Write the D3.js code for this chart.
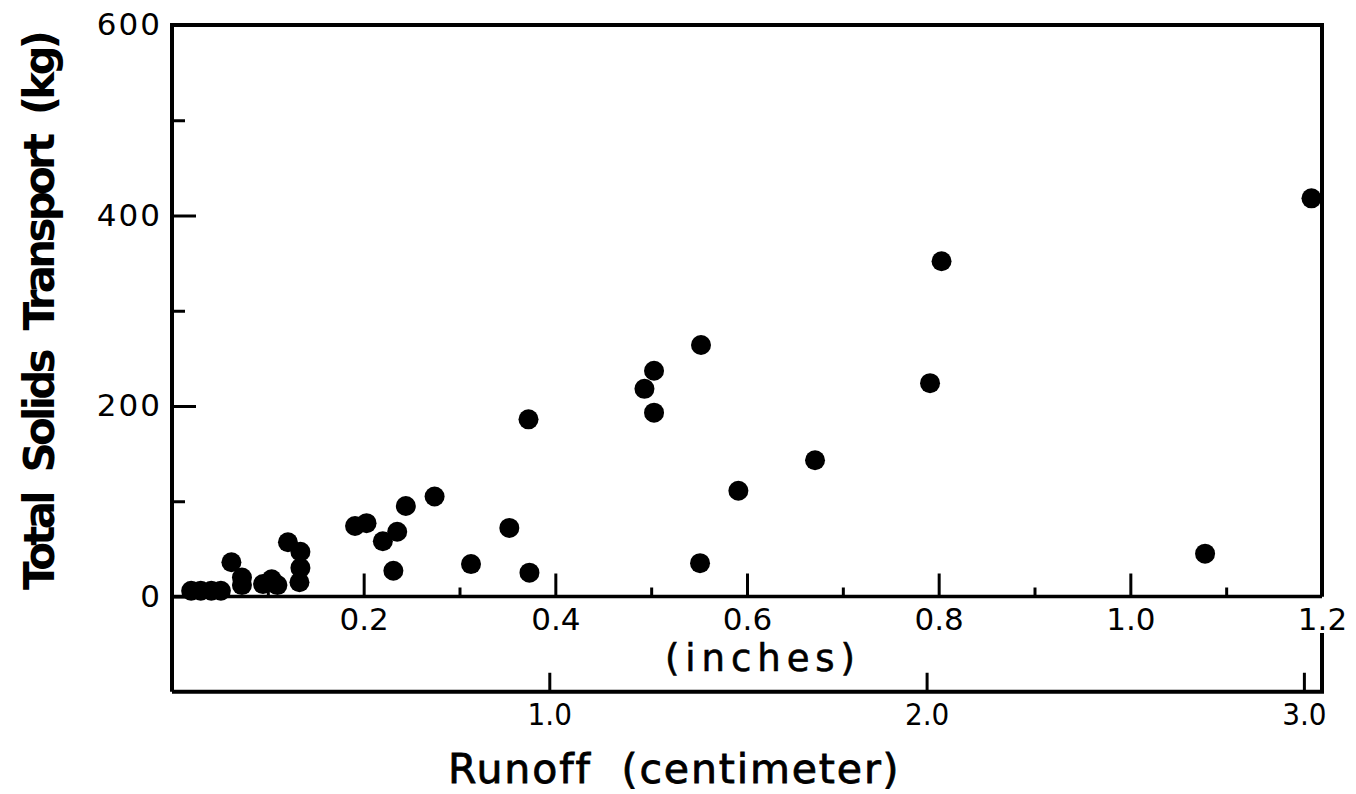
<!DOCTYPE html>
<html>
<head>
<meta charset="utf-8">
<script src="https://cdn.jsdelivr.net/npm/d3@7"></script>
<style>
  html, body { margin: 0; padding: 0; background: #fff; }
  svg { display: block; }
  text { fill: #000; white-space: pre; }
</style>
</head>
<body>
<svg id="chart" width="1356" height="794"></svg>
<script>
// Runoff per event, inches
const runoffIn = [
  0.020, 0.030, 0.041, 0.051,
  0.062, 0.073, 0.073,
  0.095, 0.104, 0.110,
  0.121, 0.134, 0.134, 0.133,
  0.191, 0.203, 0.244, 0.235, 0.220, 0.231, 0.274, 0.312, 0.352, 0.373, 0.372,
  0.552, 0.503, 0.493, 0.503, 0.791, 0.671, 0.591, 0.551,
  0.803, 1.189, 1.078
];
// Total solids transported per event, kg
const solidsKg = [
  6, 6, 6, 6,
  36, 20, 12,
  13, 18, 12,
  57, 47, 30, 15,
  74, 77, 95, 68, 58, 27, 105, 34, 72, 25, 186,
  264, 237, 218, 193, 224, 143, 111, 35,
  352, 418, 45
];

const inchMajor = [0.2, 0.4, 0.6, 0.8, 1.0, 1.2];
const inchMinor = [0.1, 0.3, 0.5, 0.7, 0.9, 1.1];
const cmTicks = [1.0, 2.0, 3.0];
const kgMajor = [0, 200, 400, 600];
const kgMinor = [100, 300, 500];

const svg = d3.select("#chart");
const plotL = 172, plotR = 1322, plotT = 25, plotB = 691.75;

const x = d3.scaleLinear().domain([0, 1.2]).range([plotL, plotR]);
const xCm = d3.scaleLinear().domain([0, 1.2 * 2.54]).range([plotL, plotR]);
const y = d3.scaleLinear().domain([-100, 600]).range([plotB, plotT]);

const tickFont = "'DejaVu Sans', sans-serif";

function styleAxis(g, width) {
  g.select(".domain").remove();
  g.selectAll(".tick line").attr("stroke", "#000").attr("stroke-width", width);
  g.selectAll(".tick text")
    .attr("font-family", tickFont)
    .attr("font-size", 31)
    .attr("fill", "#000");
}

// Spread a label's letters until it spans the given width
function fitWidth(sel, width) {
  const node = sel.node();
  const natural = node.getComputedTextLength();
  const n = node.textContent.length;
  if (n > 1) sel.attr("letter-spacing", (width - natural) / (n - 1));
}

// Frame: upper box closed on the right down to the zero line
svg.append("path")
  .attr("d", `M${plotL},${plotB} V${plotT} H${plotR} V${y(0)}`)
  .attr("fill", "none").attr("stroke", "#000").attr("stroke-width", 4)
  .attr("stroke-linejoin", "miter");
// Lower frame (centimeter scale baseline)
svg.append("path")
  .attr("d", `M${plotL},${plotB} H${plotR} V633`)
  .attr("fill", "none").attr("stroke", "#000").attr("stroke-width", 4);
// Zero line doubles as the inch scale
svg.append("line")
  .attr("x1", plotL).attr("x2", plotR)
  .attr("y1", y(0)).attr("y2", y(0))
  .attr("stroke", "#000").attr("stroke-width", 3.5);

// Inch axis along zero line
svg.append("g")
  .attr("transform", `translate(0,${y(0)})`)
  .call(d3.axisBottom(x).tickValues(inchMajor).tickSizeInner(-23).tickSizeOuter(0)
    .tickPadding(11).tickFormat(d3.format(".1f")))
  .call(g => styleAxis(g, 3));
svg.append("g")
  .attr("transform", `translate(0,${y(0)})`)
  .call(d3.axisBottom(x).tickValues(inchMinor).tickSizeInner(-9).tickSizeOuter(0).tickFormat(""))
  .call(g => styleAxis(g, 3));

// Centimeter axis along the bottom
svg.append("g")
  .attr("transform", `translate(0,${plotB})`)
  .call(d3.axisBottom(xCm).tickValues(cmTicks).tickSizeInner(-19).tickSizeOuter(0)
    .tickPadding(11).tickFormat(d3.format(".1f")))
  .call(g => {
    styleAxis(g, 3);
    g.selectAll(".tick text").attr("font-stretch", "condensed").attr("font-size", 31);
  });

// Kilogram axis on the left
svg.append("g")
  .attr("transform", `translate(${plotL},0)`)
  .call(d3.axisLeft(y).tickValues(kgMajor).tickSizeInner(-24).tickSizeOuter(0).tickPadding(10))
  .call(g => {
    styleAxis(g, 3);
    g.selectAll(".tick text").attr("letter-spacing", 2);
  });
svg.append("g")
  .attr("transform", `translate(${plotL},0)`)
  .call(d3.axisLeft(y).tickValues(kgMinor).tickSizeInner(-13).tickSizeOuter(0).tickFormat(""))
  .call(g => styleAxis(g, 3));

// Data points
svg.append("g")
  .selectAll("circle")
  .data(d3.zip(runoffIn, solidsKg))
  .join("circle")
  .attr("cx", d => x(d[0]))
  .attr("cy", d => y(d[1]))
  .attr("r", 10)
  .attr("fill", "#000");

// Axis titles
svg.append("text")
  .attr("x", 665).attr("y", 671)
  .attr("font-family", tickFont)
  .attr("font-size", 37)
  .attr("stroke", "#000").attr("stroke-width", 0.6)
  .text("(inches)")
  .call(s => fitWidth(s, 190));

svg.append("text")
  .attr("x", 448).attr("y", 783)
  .attr("font-family", tickFont)
  .attr("font-size", 41)
  .attr("stroke", "#000").attr("stroke-width", 0.8)
  .text("Runoff  (centimeter)")
  .call(s => fitWidth(s, 450));

svg.append("text")
  .attr("transform", "translate(54,590) rotate(-90)")
  .attr("font-family", tickFont)
  .attr("font-weight", "bold")
  .attr("font-size", 42)
  .text("Total  Solids  Transport  (kg)")
  .call(s => fitWidth(s, 560));
</script>
</body>
</html>
